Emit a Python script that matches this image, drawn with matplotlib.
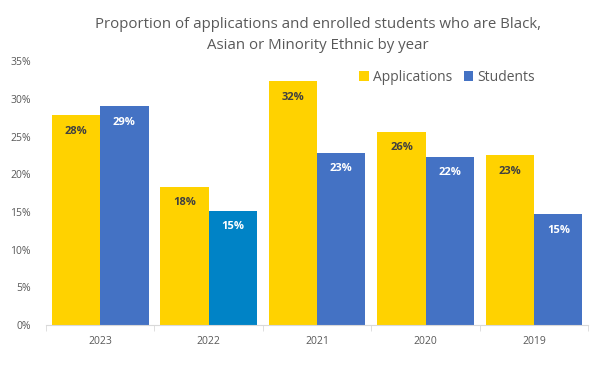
import matplotlib
matplotlib.use('Agg')
import matplotlib.pyplot as plt
import numpy as np

plt.rcParams['font.family'] = ['Open Sans', 'DejaVu Sans']

years = ['2023', '2022', '2021', '2020', '2019']
applications = [27.8, 18.3, 32.3, 25.6, 22.5]
students = [29.0, 15.1, 22.8, 22.3, 14.7]
app_labels = ['28%', '18%', '32%', '26%', '23%']
stu_labels = ['29%', '15%', '23%', '22%', '15%']

yellow = '#FFD200'
blue = '#4472C4'
blue_2022 = '#0083C6'

fig = plt.figure(figsize=(6.02, 3.66), dpi=100)
ax = fig.add_axes([0.0764, 0.112, 0.901, 0.721])

x = np.arange(len(years))
w = 0.445
stu_colors = [blue_2022 if y == '2022' else blue for y in years]
b1 = ax.bar(x - w / 2, applications, w, color=yellow, label='Applications')
b2 = ax.bar(x + w / 2, students, w, color=stu_colors, label='Students')

for rect, lab in zip(b1, app_labels):
    ax.text(rect.get_x() + rect.get_width() / 2, rect.get_height() - 2.1, lab,
            ha='center', va='center', fontsize=8, fontweight='bold', color='#404040')
for rect, lab in zip(b2, stu_labels):
    ax.text(rect.get_x() + rect.get_width() / 2, rect.get_height() - 2.1, lab,
            ha='center', va='center', fontsize=8, fontweight='bold', color='white')

ax.set_xlim(-0.5, len(years) - 0.5)
ax.set_ylim(0, 35)
ax.set_yticks(np.arange(0, 36, 5))
ax.set_yticklabels([f'{v}%' for v in range(0, 36, 5)])
ax.set_xticks(x)
ax.set_xticklabels(years)
ax.set_xticks(np.arange(-0.5, len(years), 1), minor=True)
ax.tick_params(axis='x', which='major', length=0, labelsize=7.5, colors='#595959', pad=8)
ax.tick_params(axis='x', which='minor', length=4, color='#D9D9D9')
ax.tick_params(axis='y', length=0, labelsize=7.5, colors='#595959', pad=11)

for s in ['top', 'right', 'left']:
    ax.spines[s].set_visible(False)
ax.spines['bottom'].set_color('#D9D9D9')

fig.text(0.528, 0.904, 'Proportion of applications and enrolled students who are Black,\nAsian or Minority Ethnic by year',
         ha='center', va='center', fontsize=10.8, color='#595959', linespacing=1.5)

ax.legend(loc='upper right', bbox_to_anchor=(0.925, 1.015), ncol=2, frameon=False,
          fontsize=10, handlelength=0.7, handleheight=0.7, handletextpad=0.3,
          columnspacing=0.8, labelcolor='#595959')

fig.savefig('out.png', dpi=100)
